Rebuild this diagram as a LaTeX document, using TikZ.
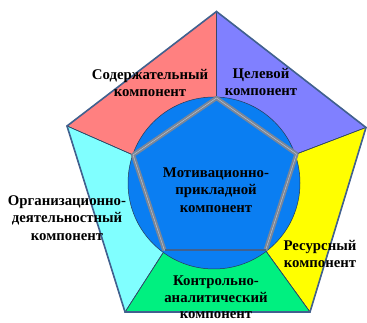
\documentclass[tikz,border=0pt]{standalone}
\usepackage{fontspec}
\setmainfont{Liberation Serif}
\definecolor{mRed}{HTML}{FF8080}
\definecolor{mViolet}{HTML}{8080FF}
\definecolor{mCyan}{HTML}{80FFFF}
\definecolor{mYellow}{HTML}{FFFF00}
\definecolor{mGreen}{HTML}{00F080}
\definecolor{mBlue}{HTML}{0A7EF2}
\definecolor{mSlate}{HTML}{41618F}
\definecolor{mGrey}{HTML}{7A8698}
\usepackage{tikz}
\usetikzlibrary{positioning}

\begin{document}
\begin{tikzpicture}[x=1pt, y=-1pt, font=\bfseries\fontsize{14.8}{17.5}\selectfont,
  sector/.style={draw=mSlate!70!black, line width=0.5pt},
  label/.style={align=center, inner sep=0pt}]
\useasboundingbox (0,0) rectangle (367,323);
% outer and inner corners
\coordinate (o1) at (216.5,11.5); \coordinate (o2) at (366,127.5);
\coordinate (o3) at (310,312);    \coordinate (o4) at (125,312);
\coordinate (o5) at (67,126);
\coordinate (i1) at (216.5,98);   \coordinate (i2) at (296.5,154);
\coordinate (i3) at (265.5,250.5);\coordinate (i4) at (164.5,250.5);
\coordinate (i5) at (133,155);
% sectors
\fill[sector, fill=mRed] (o5)--(o1)--(i1)--(i5)--cycle;
\fill[sector, fill=mViolet] (o1)--(o2)--(i2)--(i1)--cycle;
\fill[sector, fill=mYellow] (o2)--(o3)--(i3)--(i2)--cycle;
\fill[sector, fill=mGreen] (o3)--(o4)--(i4)--(i3)--cycle;
\fill[sector, fill=mCyan] (o4)--(o5)--(i5)--(i4)--cycle;
\draw[sector] (o1)--(i1) (o2)--(i2) (o3)--(i3) (o4)--(i4) (o5)--(i5);
\draw[mSlate, line width=1.6pt, line join=miter] (o1)--(o2)--(o3)--(o4)--(o5)--cycle;
% middle
\node[circle, draw=mSlate!60!black, line width=0.5pt, fill=mBlue, minimum size=172pt, inner sep=0pt] (core) at (214,183) {};
\draw[mGrey, line width=1.9pt, double=mGrey!50!white, double distance=0.5pt, line join=round] (i4)--(i5)--(i1)--(i2)--(i3);
\draw[mSlate, line width=2pt] (i3)--(i4);
% labels
\node[label] (content) at (150,83) {Содержательный\\компонент};
\node[label] (goal) at (261,82) {Целевой\\компонент};
\node[label] (motive) at (216,190) {Мотивационно-\\прикладной\\компонент};
\node[label] (organize) at (67,218) {Организационно-\\деятельностный\\компонент};
\node[label] (resource) at (320,254) {Ресурсный\\компонент};
\node[label, font=\bfseries\fontsize{14.8}{16.5}\selectfont] (control) at (216,297.5) {Контрольно-\\аналитический\\компонент};
\end{tikzpicture}
\end{document}
